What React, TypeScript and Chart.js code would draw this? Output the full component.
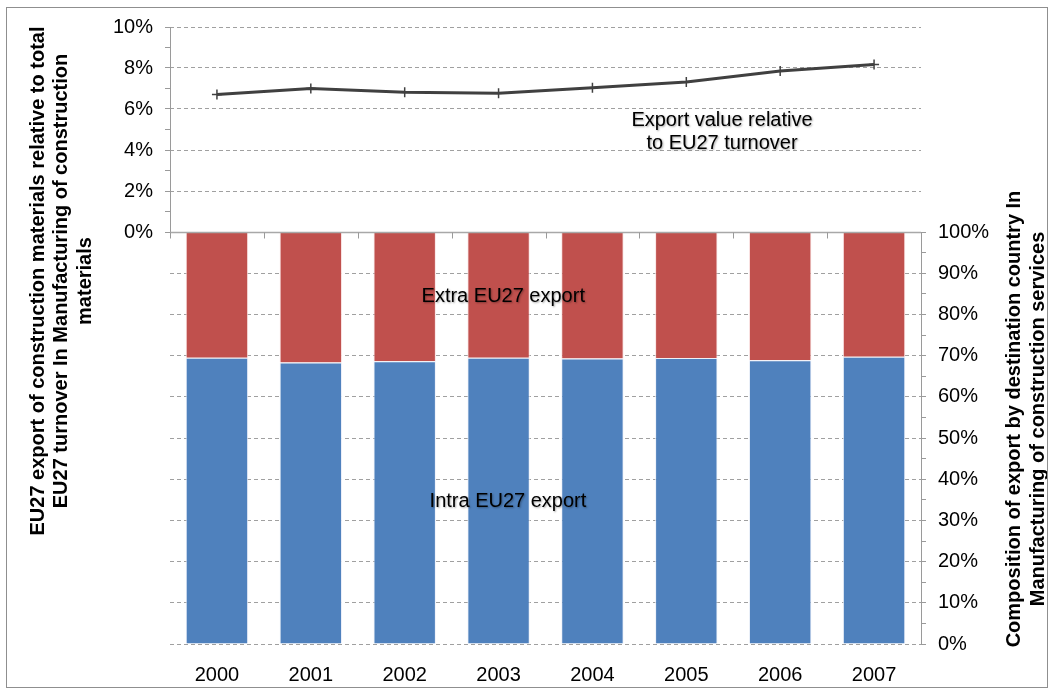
import React, { useEffect, useRef } from 'react';
import { Chart, registerables } from 'chart.js';

Chart.register(...registerables);

// ---------- data ----------
const years = ['2000', '2001', '2002', '2003', '2004', '2005', '2006', '2007'];
// Export value relative to EU27 turnover (%), left axis
const exportRelativeToTurnover = [6.71, 7.0, 6.82, 6.77, 7.04, 7.32, 7.85, 8.17];
// Composition of export by destination (%), right axis
const intraEU27Export = [69.5, 68.3, 68.6, 69.5, 69.3, 69.4, 68.9, 69.7];
const extraEU27Export = [30.5, 31.7, 31.4, 30.5, 30.7, 30.6, 31.1, 30.3];
// tick values
const leftTicks = [0, 1, 2, 3, 4, 5, 6, 7, 8, 9, 10];
const rightTicks = [0, 5, 10, 15, 20, 25, 30, 35, 40, 45, 50, 55, 60, 65, 70, 75, 80, 85, 90, 95, 100];
// titles / labels
const leftTitle = [
  'EU27 export of construction materials relative to total',
  'EU27 turnover In Manufacturing of construction',
  'materials',
];
const rightTitle = [
  'Composition of export by destination country In',
  'Manufacturing of construction services',
];
const lineLabel = ['Export value relative', 'to EU27 turnover'];
const extraLabel = 'Extra EU27 export';
const intraLabel = 'Intra EU27 export';

// ---------- layout constants ----------
const W = 1054;
const H = 694;
const PLOT_LEFT = 170;
const PLOT_RIGHT = 921;
const PLOT_TOP = 27;
const PLOT_BOTTOM = 644;
const TOP_H = 205; // height of 0-10% line panel
const BOT_H = PLOT_BOTTOM - PLOT_TOP - TOP_H; // height of 0-100% bar panel

const FONT = "'Liberation Sans', Arial, Helvetica, sans-serif";
const GRID = '#a0a0a0';
const AXIS = '#9a9a9a';

function drawRotated(ctx: CanvasRenderingContext2D, text: string, cx: number, cy: number) {
  ctx.save();
  ctx.translate(cx, cy);
  ctx.rotate(-Math.PI / 2);
  ctx.fillText(text, 0, 0);
  ctx.restore();
}

const overlayPlugin = {
  id: 'overlay',
  beforeDatasetsDraw(chart: any) {
    const { ctx, chartArea: a, scales } = chart;
    const y = scales.y;
    const y2 = scales.y2;
    ctx.save();
    ctx.strokeStyle = AXIS;
    ctx.lineWidth = 1;
    const l = Math.round(a.left) + 0.5;
    ctx.beginPath();
    ctx.moveTo(l, y.getPixelForValue(10));
    ctx.lineTo(l, y.getPixelForValue(0));
    ctx.stroke();
    const r = Math.round(a.right) + 0.5;
    ctx.beginPath();
    ctx.moveTo(r, y2.getPixelForValue(100));
    ctx.lineTo(r, y2.getPixelForValue(0));
    ctx.stroke();
    ctx.restore();
  },
  afterDatasetsDraw(chart: any) {
    const { ctx, chartArea: a, scales } = chart;
    const y = scales.y;
    const z = Math.round(y.getPixelForValue(0)) + 0.5;
    ctx.save();
    ctx.strokeStyle = '#a8a8a8';
    ctx.lineWidth = 1.5;
    ctx.beginPath();
    ctx.moveTo(a.left, z);
    ctx.lineTo(a.right, z);
    ctx.stroke();
    ctx.lineWidth = 1;
    ctx.strokeStyle = AXIS;
    const n = years.length;
    const w = (a.right - a.left) / n;
    for (let i = 0; i < n; i++) {
      const px = Math.round(a.left + i * w) + 0.5;
      ctx.beginPath();
      ctx.moveTo(px, z);
      ctx.lineTo(px, z + 6);
      ctx.stroke();
    }
    ctx.restore();
  },
  afterDraw(chart: any) {
    const { ctx, scales } = chart;
    const x = scales.x;
    const y = scales.y;
    const y2 = scales.y2;
    ctx.save();
    ctx.fillStyle = '#000';
    ctx.textAlign = 'center';
    ctx.textBaseline = 'middle';

    // axis titles
    ctx.font = `bold 20px ${FONT}`;
    const lx = [38, 61, 85];
    leftTitle.forEach((t, i) => drawRotated(ctx, t, lx[i], 281));
    const rx = [1014, 1038];
    rightTitle.forEach((t, i) => drawRotated(ctx, t, rx[i], 419));

    // series labels
    ctx.font = `20px ${FONT}`;
    ctx.shadowColor = 'rgba(0,0,0,0.35)';
    ctx.shadowBlur = 2;
    ctx.shadowOffsetX = 1;
    ctx.shadowOffsetY = 1;
    const lxp = x.getPixelForValue(5.38);
    const lyp = y.getPixelForValue(5.44);
    ctx.fillText(lineLabel[0], lxp, lyp);
    ctx.fillText(lineLabel[1], lxp, lyp + 23);
    ctx.fillText(extraLabel, x.getPixelForValue(3.05), y2.getPixelForValue(84.3));
    ctx.fillText(intraLabel, x.getPixelForValue(3.1), y2.getPixelForValue(34.5));
    ctx.restore();

    // outer frame
    ctx.save();
    ctx.strokeStyle = '#8f8f8f';
    ctx.lineWidth = 1;
    ctx.strokeRect(6.5, 7.5, W - 13, H - 14);
    ctx.restore();
  },
};

export default function App() {
  const ref = useRef<HTMLCanvasElement | null>(null);

  useEffect(() => {
    if (!ref.current) return;
    Chart.defaults.font.family = FONT;
    Chart.defaults.font.size = 20;
    Chart.defaults.color = '#000';

    const chart = new Chart(ref.current, {
      data: {
        labels: years,
        datasets: [
          {
            type: 'line',
            label: 'Export value relative to EU27 turnover',
            data: exportRelativeToTurnover,
            yAxisID: 'y',
            borderColor: '#404040',
            borderWidth: 3,
            pointStyle: 'cross',
            pointRadius: 5,
            pointBorderWidth: 1.5,
            pointBorderColor: '#404040',
            tension: 0,
            order: 0,
          } as any,
          {
            type: 'bar',
            label: 'Intra EU27 export',
            data: intraEU27Export,
            yAxisID: 'y2',
            stack: 's',
            backgroundColor: '#4F81BD',
            borderColor: 'rgba(235,240,250,0.9)',
            borderWidth: 1,
            categoryPercentage: 1,
            barPercentage: 0.665,
            order: 1,
          },
          {
            type: 'bar',
            label: 'Extra EU27 export',
            data: extraEU27Export,
            yAxisID: 'y2',
            stack: 's',
            backgroundColor: '#C0504D',
            borderColor: 'rgba(250,225,225,0.9)',
            borderWidth: 1,
            categoryPercentage: 1,
            barPercentage: 0.665,
            order: 1,
          },
        ],
      },
      options: {
        responsive: false,
        animation: false,
        layout: { padding: { left: 0, right: 0, top: PLOT_TOP, bottom: 0 } },
        plugins: { legend: { display: false }, tooltip: { enabled: false }, title: { display: false } },
        scales: {
          x: {
            stacked: true,
            offset: true,
            grid: { display: false, drawTicks: false },
            border: { display: false },
            ticks: { padding: 19, font: { size: 20 }, color: '#000', maxRotation: 0 },
            afterFit: (s: any) => {
              s.height = H - PLOT_BOTTOM;
            },
          },
          y: {
            position: 'left',
            min: (-10 * BOT_H) / TOP_H,
            max: 10,
            afterBuildTicks: (s: any) => {
              s.ticks = leftTicks.map((v) => ({ value: v }));
            },
            afterFit: (s: any) => {
              s.width = PLOT_LEFT;
            },
            ticks: {
              padding: 12,
              autoSkip: false,
              font: { size: 20 },
              color: '#000',
              callback: (v: any) => (Number(v) % 2 === 0 ? `${v}%` : ''),
            },
            grid: {
              tickLength: 5,
              lineWidth: 1,
              color: (c: any) => {
                const v = c.tick ? c.tick.value : null;
                return v !== null && v > 0 && v % 2 === 0 ? GRID : 'rgba(0,0,0,0)';
              },
              tickColor: AXIS,
            },
            border: { display: false, dash: [4, 3] },
          },
          y2: {
            position: 'right',
            stacked: true,
            min: 0,
            max: 100 + (100 * TOP_H) / BOT_H,
            afterBuildTicks: (s: any) => {
              s.ticks = rightTicks.map((v) => ({ value: v }));
            },
            afterFit: (s: any) => {
              s.width = W - PLOT_RIGHT;
            },
            ticks: {
              padding: 12,
              autoSkip: false,
              font: { size: 20 },
              color: '#000',
              callback: (v: any) => (Number(v) % 10 === 0 ? `${v}%` : ''),
            },
            grid: {
              tickLength: 5,
              lineWidth: 1,
              color: (c: any) => {
                const v = c.tick ? c.tick.value : null;
                return v !== null && v < 100 && v % 10 === 0 ? GRID : 'rgba(0,0,0,0)';
              },
              tickColor: AXIS,
            },
            border: { display: false, dash: [4, 3] },
          },
        },
      },
      plugins: [overlayPlugin],
    } as any);

    return () => chart.destroy();
  }, []);

  return (
    <div style={{ position: 'fixed', left: 0, top: 0, width: W, height: H, background: '#fff' }}>
      <canvas ref={ref} width={W} height={H} style={{ display: 'block', width: W, height: H }} />
    </div>
  );
}
